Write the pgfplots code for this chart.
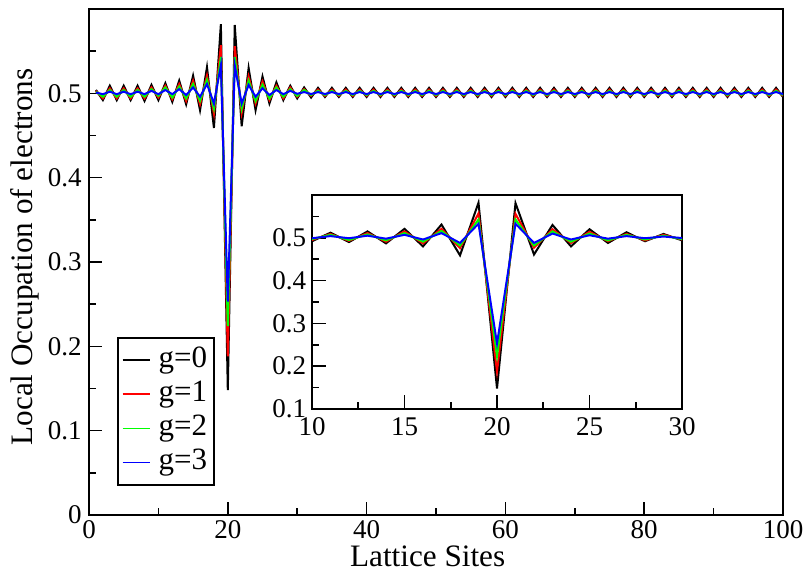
\documentclass[border=0pt]{standalone}
\usepackage{fontspec}
\setmainfont{Liberation Serif}
\usepackage{pgfplots}
\usepackage{pgfplotstable}
\pgfplotsset{compat=1.18}
\definecolor{xgreen}{RGB}{0,255,0}

% local occupation per site, g=0..3
\pgfplotstableread{
x g0 g1 g2 g3
1 0.504 0.503 0.502 0.501
2 0.492 0.494 0.496 0.499
3 0.509 0.506 0.504 0.502
4 0.492 0.494 0.496 0.499
5 0.509 0.506 0.504 0.502
6 0.492 0.494 0.496 0.499
7 0.509 0.506 0.504 0.502
8 0.491 0.494 0.496 0.499
9 0.510 0.507 0.505 0.503
10 0.492 0.495 0.497 0.499
11 0.512 0.509 0.507 0.504
12 0.490 0.493 0.495 0.499
13 0.515 0.511 0.508 0.505
14 0.487 0.491 0.494 0.498
15 0.521 0.515 0.511 0.507
16 0.480 0.487 0.491 0.496
17 0.531 0.521 0.516 0.511
18 0.459 0.476 0.482 0.488
19 0.582 0.557 0.543 0.533
20 0.148 0.188 0.224 0.253
21 0.581 0.556 0.543 0.533
22 0.461 0.477 0.482 0.488
23 0.530 0.520 0.515 0.510
24 0.480 0.488 0.491 0.496
25 0.520 0.514 0.510 0.506
26 0.488 0.492 0.494 0.498
27 0.513 0.509 0.507 0.504
28 0.492 0.494 0.496 0.499
29 0.509 0.507 0.505 0.503
30 0.494 0.496 0.497 0.4995
31 0.507 0.505 0.504 0.5015
32 0.495 0.497 0.498 0.4992
33 0.5065 0.5045 0.503 0.5015
34 0.4957 0.4970 0.498 0.4992
35 0.5065 0.5045 0.503 0.5015
36 0.4957 0.4970 0.498 0.4992
37 0.5065 0.5045 0.503 0.5015
38 0.4957 0.4970 0.498 0.4992
39 0.5065 0.5045 0.503 0.5015
40 0.4957 0.4970 0.498 0.4992
41 0.5065 0.5045 0.503 0.5015
42 0.4957 0.4970 0.498 0.4992
43 0.5065 0.5045 0.503 0.5015
44 0.4957 0.4970 0.498 0.4992
45 0.5065 0.5045 0.503 0.5015
46 0.4957 0.4970 0.498 0.4992
47 0.5065 0.5045 0.503 0.5015
48 0.4957 0.4970 0.498 0.4992
49 0.5065 0.5045 0.503 0.5015
50 0.4957 0.4970 0.498 0.4992
51 0.5065 0.5045 0.503 0.5015
52 0.4957 0.4970 0.498 0.4992
53 0.5065 0.5045 0.503 0.5015
54 0.4957 0.4970 0.498 0.4992
55 0.5065 0.5045 0.503 0.5015
56 0.4957 0.4970 0.498 0.4992
57 0.5065 0.5045 0.503 0.5015
58 0.4957 0.4970 0.498 0.4992
59 0.5065 0.5045 0.503 0.5015
60 0.4957 0.4970 0.498 0.4992
61 0.5065 0.5045 0.503 0.5015
62 0.4957 0.4970 0.498 0.4992
63 0.5065 0.5045 0.503 0.5015
64 0.4957 0.4970 0.498 0.4992
65 0.5065 0.5045 0.503 0.5015
66 0.4957 0.4970 0.498 0.4992
67 0.5065 0.5045 0.503 0.5015
68 0.4957 0.4970 0.498 0.4992
69 0.5065 0.5045 0.503 0.5015
70 0.4957 0.4970 0.498 0.4992
71 0.5065 0.5045 0.503 0.5015
72 0.4957 0.4970 0.498 0.4992
73 0.5065 0.5045 0.503 0.5015
74 0.4957 0.4970 0.498 0.4992
75 0.5065 0.5045 0.503 0.5015
76 0.4957 0.4970 0.498 0.4992
77 0.5065 0.5045 0.503 0.5015
78 0.4957 0.4970 0.498 0.4992
79 0.5065 0.5045 0.503 0.5015
80 0.4957 0.4970 0.498 0.4992
81 0.5065 0.5045 0.503 0.5015
82 0.4957 0.4970 0.498 0.4992
83 0.5065 0.5045 0.503 0.5015
84 0.4957 0.4970 0.498 0.4992
85 0.5065 0.5045 0.503 0.5015
86 0.4957 0.4970 0.498 0.4992
87 0.5065 0.5045 0.503 0.5015
88 0.4957 0.4970 0.498 0.4992
89 0.5065 0.5045 0.503 0.5015
90 0.4957 0.4970 0.498 0.4992
91 0.5065 0.5045 0.503 0.5015
92 0.4957 0.4970 0.498 0.4992
93 0.5065 0.5045 0.503 0.5015
94 0.4957 0.4970 0.498 0.4992
95 0.5065 0.5045 0.503 0.5015
96 0.4957 0.4970 0.498 0.4992
97 0.5065 0.5045 0.503 0.5015
98 0.4957 0.4970 0.498 0.4992
99 0.5065 0.5045 0.503 0.5015
100 0.4957 0.4970 0.498 0.4992
}\occ

\pgfplotsset{
  xmgr/.style={
    scale only axis, anchor=south west,
    tick align=inside, xtick pos=bottom, ytick pos=left,
    axis line style={line width=1pt},
    every tick/.style={line width=0.8pt, black},
    minor tick length=3.5pt,
    /pgf/number format/assume math mode=true,
  },
}

\begin{document}
\begin{tikzpicture}[font=\fontsize{13.5}{16}\selectfont]
\path[use as bounding box] (-44.5pt,-27.5pt) rectangle (359pt,257.5pt);

\begin{axis}[
  xmgr, at={(0pt,0pt)},
  width=347pt, height=253pt,
  xmin=0, xmax=100, ymin=0, ymax=0.6,
  xtick={0,20,...,100}, minor xtick={10,30,50,70,90},
  ytick={0,0.1,0.2,0.3,0.4,0.5},
  minor ytick={0.05,0.15,0.25,0.35,0.45,0.55},
  major tick length=6.3pt,
  xticklabel style={anchor=base, inner sep=0pt, yshift=-11.5pt},
  yticklabel style={anchor=east, inner sep=0pt, xshift=-3.5pt},
  xlabel={Lattice Sites},
  ylabel={Local Occupation of electrons},
  label style={font=\fontsize{15.6}{18}\selectfont, inner sep=0pt},
  xlabel style={at={(axis description cs:0.488,-0.101)}, anchor=base},
  ylabel style={at={(axis description cs:-0.093,0.51)}, anchor=center},
  legend cell align=left,
  legend image code/.code={\draw[#1, line width=0.7pt] (0pt,0pt) -- (13.5pt,0pt);},
  legend style={at={(axis description cs:0.0403,0.352)}, anchor=north west,
    draw=black, line width=1pt, inner xsep=2pt, inner ysep=2.5pt,
    font=\fontsize{15.5}{18}\selectfont,
    nodes={inner sep=1.6pt, text height=10.5pt, text depth=3.4pt},
    row sep=0pt, column sep=2.5pt},
]
\addplot[black, line width=1pt] table[x=x, y=g0] {\occ};
\addplot[red, line width=1pt] table[x=x, y=g1] {\occ};
\addplot[xgreen, line width=1pt] table[x=x, y=g2] {\occ};
\addplot[blue, line width=1pt] table[x=x, y=g3] {\occ};
\legend{g=0, g=1, g=2, g=3}
\end{axis}

% inset, sites 10..30
\begin{axis}[
  xmgr, at={(111.5pt,53pt)},
  width=185pt, height=107pt,
  axis background/.style={fill=white},
  xmin=10, xmax=30, ymin=0.1, ymax=0.6,
  xtick={10,15,...,30}, minor xtick={12.5,17.5,22.5,27.5},
  ytick={0.1,0.2,0.3,0.4,0.5},
  minor ytick={0.15,0.25,0.35,0.45,0.55},
  major tick length=7pt,
  xticklabel style={anchor=base, inner sep=0pt, yshift=-13pt},
  yticklabel style={anchor=east, inner sep=0pt, xshift=-2.8pt},
]
\addplot[black, line width=1pt] table[x=x, y=g0] {\occ};
\addplot[red, line width=1pt] table[x=x, y=g1] {\occ};
\addplot[xgreen, line width=1pt] table[x=x, y=g2] {\occ};
\addplot[blue, line width=1pt] table[x=x, y=g3] {\occ};
\end{axis}
\end{tikzpicture}
\end{document}
